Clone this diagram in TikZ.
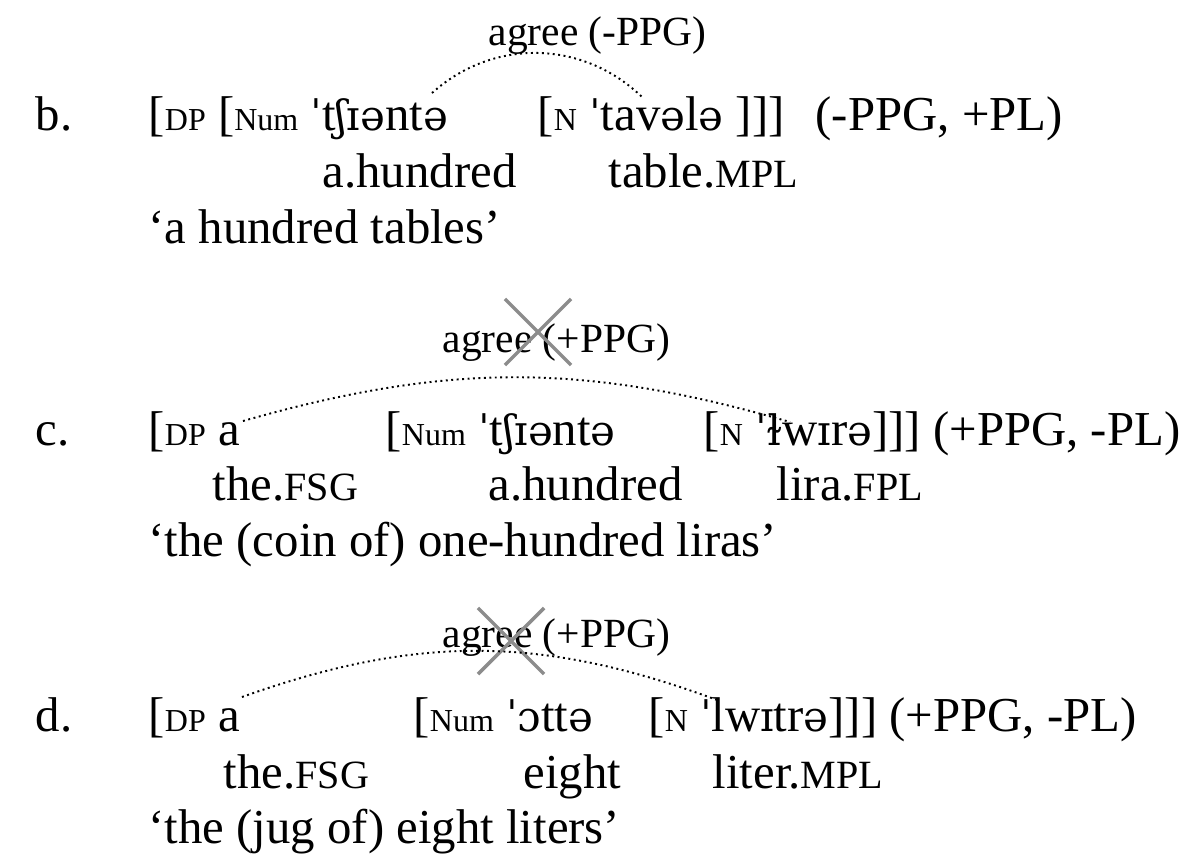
\documentclass[tikz,border=0pt]{standalone}
\usepackage{fontspec}
\setmainfont{Liberation Serif}
\newfontfamily\ipafont[Scale=0.86]{DejaVu Serif}
\usetikzlibrary{shapes.misc}
\newcommand{\catlbl}[1]{{\fontsize{9.1}{10}\selectfont #1}}
\newcommand{\glsm}[1]{{\fontsize{11.4}{13}\selectfont #1}}
\newcommand{\ip}[1]{{\ipafont #1}}

\begin{document}
\begin{tikzpicture}[x=0.01cm, y=-0.01cm,
    txt/.style={anchor=base west, inner sep=0pt, font=\fontsize{13.87}{16}\selectfont},
    agr/.style={anchor=base west, inner sep=0pt, font=\fontsize{11.8}{14}\selectfont},
    link/.style={densely dotted, line width=0.55pt},
    nope/.style={cross out, draw=black!45, line width=1pt, minimum size=0.66cm, inner sep=0pt, outer sep=0pt}]
\useasboundingbox (0,0) rectangle (1181,860);

            % b.
            \node[txt] (b0) at (35,130) {b.};
            \node[txt] (b1) at (148,130) {[\catlbl{DP} [\catlbl{Num} \ip{ˈ}t\ip{ʃɪə}nt\ip{ə}};
            \node[txt] (b2) at (537,130) {[\catlbl{N} \ip{ˈ}tav\ip{ə}l\ip{ə} ]]]};
            \node[txt] (b3) at (815,130) {(-PPG, +PL)};
            \node[txt] (bg1) at (322,187) {a.hundred};
            \node[txt] (bg2) at (608,187) {table.\glsm{MPL}};
            \node[txt] (bt) at (148,243) {‘a hundred tables’};
            \node[agr] (ba) at (488,45) {agree (-PPG)};
            \coordinate (bfrom) at (432,93);
            \coordinate (bto) at (642,97);

            % c.
            \node[txt] (c0) at (35,445) {c.};
            \node[txt] (c1) at (148,445) {[\catlbl{DP} a};
            \node[txt] (c2) at (385,445) {[\catlbl{Num} \ip{ˈ}t\ip{ʃɪə}nt\ip{ə}};
            \node[txt] (c3) at (703,445) {[\catlbl{N} \ip{ˈɫ}w\ip{ɪ}r\ip{ə}]]] (+PPG, -PL)};
            \node[txt] (cg1) at (212,500) {the.\glsm{FSG}};
            \node[txt] (cg2) at (488,500) {a.hundred};
            \node[txt] (cg3) at (776,500) {lira.\glsm{FPL}};
            \node[txt] (ct) at (148,556) {‘the (coin of) one-hundred liras’};
            \node[agr] (ca) at (442,352) {agree (+PPG)};
            \node[nope] (cx) at (538,332) {};
            \coordinate (cfrom) at (243,421);
            \coordinate (cto) at (790,422);

            % d.
            \node[txt] (d0) at (35,731) {d.};
            \node[txt] (d1) at (148,731) {[\catlbl{DP} a};
            \node[txt] (d2) at (413,731) {[\catlbl{Num} \ip{ˈɔ}tt\ip{ə}};
            \node[txt] (d3) at (648,731) {[\catlbl{N} \ip{ˈ}lw\ip{ɪ}tr\ip{ə}]]] (+PPG, -PL)};
            \node[txt] (dg1) at (223,788) {the.\glsm{FSG}};
            \node[txt] (dg2) at (523,788) {eight};
            \node[txt] (dg3) at (712,788) {liter.\glsm{MPL}};
            \node[txt] (dt) at (148,843) {‘the (jug of) eight liters’};
            \node[agr] (da) at (442,647) {agree (+PPG)};
            \node[nope] (dx) at (511,641) {};
            \coordinate (dfrom) at (242,697);
            \coordinate (dto) at (717,700);

            % agreement links
            \draw[link] (bfrom) to[bend left=43] (bto);
            \draw[link] (cfrom) to[bend left=16] (cto);
            \draw[link] (dfrom) to[bend left=20] (dto);

\end{tikzpicture}
\end{document}
